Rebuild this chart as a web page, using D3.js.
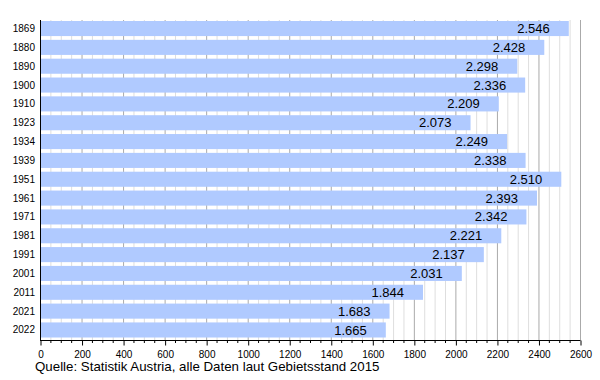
<!DOCTYPE html>
<html><head><meta charset="utf-8">
<script src="https://cdn.jsdelivr.net/npm/d3@7"></script>
<style>body{margin:0;background:#fff}svg{display:block}text{font-family:"Liberation Sans",Arial,sans-serif}</style>
</head><body>
<svg id="c" width="600" height="380"></svg>
<script>
const years = ["1869","1880","1890","1900","1910","1923","1934","1939","1951","1961","1971","1981","1991","2001","2011","2021","2022"];
const values = [2546,2428,2298,2336,2209,2073,2249,2338,2510,2393,2342,2221,2137,2031,1844,1683,1665];
const majorTicks = [0,200,400,600,800,1000,1200,1400,1600,1800,2000,2200,2400,2600];
const source = "Quelle: Statistik Austria, alle Daten laut Gebietsstand 2015";

const svg = d3.select("#c");
const L = 40, R = 580, T = 20, B = 340;
const x = d3.scaleLinear().domain([0,2600]).range([L,R]);
const y = d3.scaleBand().domain(years).range([T+1,B-2.5]).paddingInner(0.2).paddingOuter(0);
const minor = d3.range(0,2601,50);

// grid
svg.append("g").selectAll("line").data(minor.filter(v=>v%200!==0)).join("line")
  .attr("x1",d=>x(d)+0.5).attr("x2",d=>x(d)+0.5).attr("y1",T).attr("y2",B)
  .attr("stroke","#dedede").attr("stroke-width",1);
svg.append("g").selectAll("line").data(majorTicks.filter(v=>v>0)).join("line")
  .attr("x1",d=>x(d)+0.5).attr("x2",d=>x(d)+0.5).attr("y1",T).attr("y2",B)
  .attr("stroke","#aaaaaa").attr("stroke-width",1);

// bars
svg.append("g").selectAll("rect").data(years).join("rect")
  .attr("x",x(0)).attr("y",d=>y(d)).attr("height",y.bandwidth())
  .attr("width",(d,i)=>x(values[i])-x(0)).attr("fill","#b0caff");

const fmt = d3.formatLocale({decimal:",",thousands:".",grouping:[3],currency:["",""]}).format(",");
svg.append("g").selectAll("text").data(years).join("text")
  .attr("x",(d,i)=>x(values[i])-19).attr("y",d=>y(d)+y.bandwidth()/2).attr("dy","0.35em")
  .attr("text-anchor","end").attr("font-size",13).attr("fill","#000")
  .text((d,i)=>fmt(values[i]));

// y labels
svg.append("g").selectAll("text").data(years).join("text")
  .attr("x",35).attr("y",d=>y(d)+y.bandwidth()/2).attr("dy","0.35em")
  .attr("text-anchor","end").attr("font-size",10).text(d=>d);

// axes lines
svg.append("line").attr("x1",L+0.5).attr("x2",L+0.5).attr("y1",T).attr("y2",B+0.5).attr("stroke","#000");
const xAxis = svg.append("g").attr("transform",`translate(0.5,${B+0.5})`)
  .call(d3.axisBottom(x).tickValues(majorTicks).tickSize(5).tickFormat(d3.format("d")));
xAxis.select(".domain").attr("d",`M${L-0.5},0H${R}`);
xAxis.selectAll("text").attr("font-size",10).attr("font-family","Liberation Sans, Arial, sans-serif").attr("dy","0.9em");
svg.append("g").selectAll("line").data(minor.filter(v=>v%200!==0)).join("line")
  .attr("x1",d=>x(d)+0.5).attr("x2",d=>x(d)+0.5).attr("y1",B).attr("y2",B+3).attr("stroke","#000");

svg.append("text").attr("x",35).attr("y",371).attr("font-size",13.3).text(source);
</script>
</body></html>
